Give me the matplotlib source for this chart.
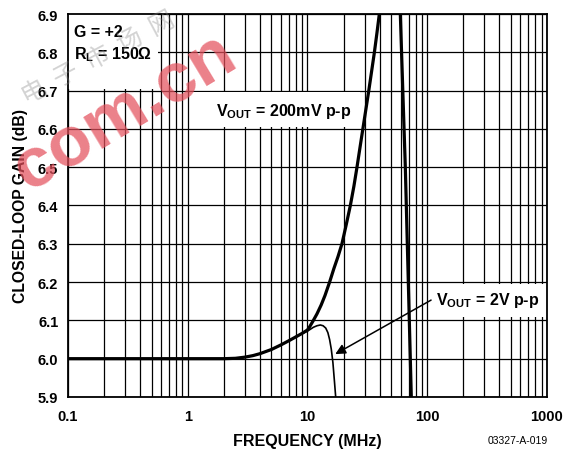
import matplotlib
matplotlib.use("Agg")
import matplotlib.pyplot as plt
from matplotlib.patches import Rectangle
from matplotlib.ticker import LogLocator, NullFormatter, FixedLocator, FixedFormatter

plt.rcParams['font.family'] = ['Liberation Sans', 'Noto Sans CJK SC', 'DejaVu Sans']
plt.rcParams['mathtext.fontset'] = 'custom'
plt.rcParams['mathtext.rm'] = 'Liberation Sans:bold'
plt.rcParams['mathtext.bf'] = 'Liberation Sans:bold'
plt.rcParams['mathtext.it'] = 'Liberation Sans:bold'

# 200mV p-p curve (frequency in MHz, gain in dB)
freq_200mv = [0.1, 1, 2.0, 2.5, 3.0, 3.5, 4.0, 5.0, 6.0, 7.0, 8.0, 9.0, 10, 10.5, 11.2, 12,
              13, 14, 15.3, 16.6, 18, 19.4, 21, 22.8, 24.4, 25.9, 27.4, 29, 30.7, 32.5,
              34.3, 36.2, 38, 39.8, 44, 50, 55, 59.6, 62.5, 65.6, 69.5, 73.6, 76]
gain_200mv = [6.0, 6.0, 6.0, 6.001, 6.004, 6.008, 6.013, 6.024, 6.036, 6.047, 6.057, 6.066,
              6.075, 6.085, 6.1, 6.117, 6.14, 6.165, 6.2, 6.235, 6.267, 6.3, 6.348, 6.4,
              6.45, 6.5, 6.55, 6.6, 6.65, 6.7, 6.75, 6.8, 6.85, 6.9, 7.05, 7.15, 7.05, 6.9,
              6.7, 6.5, 6.2, 5.9, 5.8]

# 2V p-p curve
freq_2v = [0.1, 1, 2.0, 2.5, 3.0, 3.5, 4.0, 5.0, 6.0, 7.0, 8.0, 9.0, 10, 11.2, 12.0, 12.8,
           13.5, 14.2, 14.8, 15.3, 15.8, 16.3, 16.8, 17.2, 17.5]
gain_2v = [6.0, 6.0, 6.0, 6.001, 6.004, 6.008, 6.013, 6.024, 6.036, 6.047, 6.057, 6.065,
           6.072, 6.082, 6.086, 6.088, 6.086, 6.08, 6.068, 6.05, 6.025, 5.99, 5.94, 5.9, 5.86]

x_ticks = [0.1, 1, 10, 100, 1000]
x_tick_labels = ["0.1", "1", "10", "100", "1000"]
y_ticks = [5.9, 6.0, 6.1, 6.2, 6.3, 6.4, 6.5, 6.6, 6.7, 6.8, 6.9]
y_tick_labels = ["5.9", "6.0", "6.1", "6.2", "6.3", "6.4", "6.5", "6.6", "6.7", "6.8", "6.9"]

fig = plt.figure(figsize=(5.8, 4.52), dpi=100)
ax = fig.add_axes([0.1172, 0.1195, 0.8259, 0.8473])
ax.set_xscale('log')
ax.set_xlim(0.1, 1000)
ax.set_ylim(5.9, 6.9)

ax.xaxis.set_major_locator(FixedLocator(x_ticks))
ax.xaxis.set_major_formatter(FixedFormatter(x_tick_labels))
ax.xaxis.set_minor_locator(LogLocator(base=10, subs=range(2, 10), numticks=20))
ax.xaxis.set_minor_formatter(NullFormatter())
ax.yaxis.set_major_locator(FixedLocator(y_ticks))
ax.yaxis.set_major_formatter(FixedFormatter(y_tick_labels))

ax.grid(True, which='major', color='black', lw=0.9)
ax.grid(True, which='minor', axis='x', color='black', lw=0.9)
ax.tick_params(which='both', length=0)
ax.tick_params(axis='y', pad=7)
ax.tick_params(axis='x', pad=9)
for lab in ax.get_xticklabels() + ax.get_yticklabels():
    lab.set_fontweight('bold')
    lab.set_fontsize(10.5)
for s in ax.spines.values():
    s.set_linewidth(1.3)

# white boxes behind annotations
for (x0, y0, w, h) in [(0.0, 0.804, 0.188, 0.196), (0.255, 0.705, 0.355, 0.091),
                       (0.760, 0.209, 0.240, 0.086)]:
    ax.add_patch(Rectangle((x0, y0), w, h, transform=ax.transAxes, facecolor='white',
                           edgecolor='none', zorder=2.5))

ax.plot(freq_200mv, gain_200mv, color='black', lw=2.3, zorder=4, solid_joinstyle='round')
ax.plot(freq_2v, gain_2v, color='black', lw=1.2, zorder=4, solid_joinstyle='round')

ax.text(0.012, 0.955, "G = +2", transform=ax.transAxes, fontsize=11.5, fontweight='bold',
        va='center', ha='left', zorder=5)
ax.text(0.012, 0.897, r"R$_\mathrm{L}$ = 150Ω", transform=ax.transAxes, fontsize=11.5,
        fontweight='bold', va='center', ha='left', zorder=5)
ax.text(0.310, 0.747, r"V$_\mathrm{OUT}$ = 200mV p-p", transform=ax.transAxes, fontsize=11.5,
        fontweight='bold', va='center', ha='left', zorder=5)
ax.text(0.768, 0.255, r"V$_\mathrm{OUT}$ = 2V p-p", transform=ax.transAxes, fontsize=11.5,
        fontweight='bold', va='center', ha='left', zorder=5)
ax.annotate("", xy=(0.558, 0.112), xycoords='axes fraction',
            xytext=(0.758, 0.253), textcoords='axes fraction',
            arrowprops=dict(arrowstyle='-|>', color='black', lw=1.1,
                            mutation_scale=15, shrinkA=0, shrinkB=0), zorder=5)

ax.set_xlabel("FREQUENCY (MHz)", fontsize=11.5, fontweight='bold', labelpad=7)
ax.set_ylabel("CLOSED-LOOP GAIN (dB)", fontsize=11.3, fontweight='bold', labelpad=7)
fig.text(0.945, 0.013, "03327-A-019", fontsize=7.5, ha='right', va='bottom')

# watermark
fig.text(0.215, 0.75, "com.cn", fontsize=51, fontweight='bold', color='#e4505c', alpha=0.72,
         rotation=31, ha='center', va='center', zorder=10)
fig.text(0.17, 0.87, "电  子  市  场  网", fontsize=18, color='gray', alpha=0.35,
         rotation=28, ha='center', va='center', zorder=10,
         family=['Noto Sans CJK SC', 'DejaVu Sans'])

fig.savefig("out.png", dpi=100)
